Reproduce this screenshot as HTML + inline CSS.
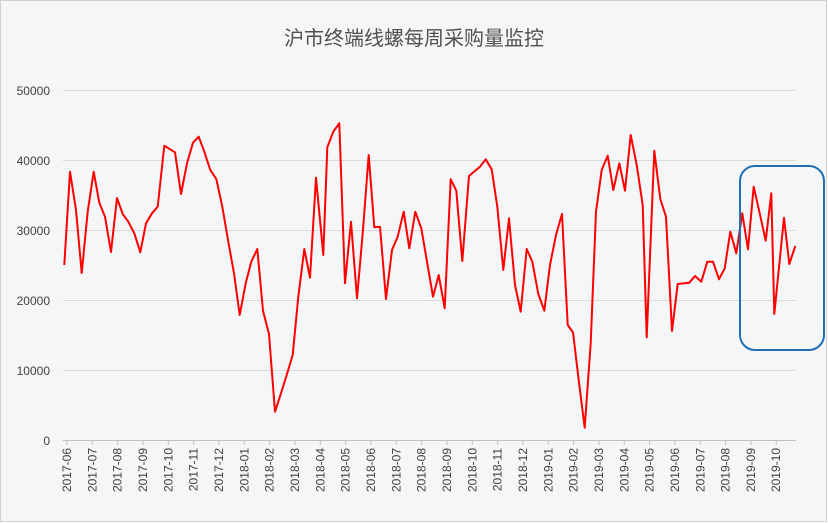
<!DOCTYPE html>
<html><head><meta charset="utf-8"><style>
html,body{margin:0;padding:0;background:#fff}
svg{display:block}
text{font-family:"Liberation Sans","Noto Sans CJK SC",sans-serif}
</style></head><body>
<svg width="828" height="523" viewBox="0 0 828 523" xmlns="http://www.w3.org/2000/svg">
<rect x="0.5" y="0.5" width="826" height="521" fill="#f5f6f8" stroke="#d0d0d0"/>
<text x="414" y="45" text-anchor="middle" font-size="20" fill="#505050">沪市终端线螺每周采购量监控</text>
<g stroke="#d9d9d9" stroke-width="1">
<line x1="63" x2="796" y1="90.5" y2="90.5"/>
<line x1="63" x2="796" y1="160.5" y2="160.5"/>
<line x1="63" x2="796" y1="230.5" y2="230.5"/>
<line x1="63" x2="796" y1="300.5" y2="300.5"/>
<line x1="63" x2="796" y1="370.5" y2="370.5"/>
<line x1="63" x2="796" y1="440.5" y2="440.5" stroke="#bfbfbf"/>
</g>
<g font-size="12" fill="#404040" text-anchor="end">
<text x="50" y="95">50000</text><text x="50" y="165">40000</text><text x="50" y="235">30000</text>
<text x="50" y="305">20000</text><text x="50" y="375">10000</text><text x="50" y="445">0</text>
</g>
<g id="xt" font-size="12" fill="#404040"></g>
<polyline fill="none" stroke="#ff0000" stroke-width="2" stroke-linejoin="round" points="
64.3,265 70,171.7 76,210 81.7,273 87.7,211.7 93.7,171.7 99.3,202.7 105,216.7 111,252 117,198 122.7,214 128.3,221.7 134.3,233.3 140.3,252.3 146,223.3 152,213.3 157.7,206.7 164.3,145.7 175,152.3 181,194 187,163.3 193,142.7 198.7,136.7 204.3,151.7 210.3,170 216.3,179 222.3,206.7 228,240 234,273.3 239.7,315 245.7,283.3 251.3,261.7 257.3,249 263,310.7 269,334.3 275,411.7 281,393.3 286.7,375 292.7,355 298.3,296.7 304.3,249 310,277.7 316,177.7 323.3,255 327.3,147.3 333.3,131.7 339.3,123.3 345,283.3 351,221.7 357,298.3 362.7,233.3 368.7,155 374.3,227.3 380,226.7 386,299 392,250 397.7,236.7 403.7,211.7 409.3,248.3 415.3,211.7 421.3,228.3 427,261.7 433,296.7 438.7,275 444.7,308.3 450.7,179.3 456.3,190.7 462.3,261 469,176 474,171.7 480,166.7 485.7,159.3 491.7,169.3 497.3,206.7 503.3,270 509,218.3 515,285 520.7,311.7 526.7,249 532.3,261.7 538.3,294 544.3,310.7 550,265 556,235 562,214 567.7,325 573,332.5 578.7,380 584.7,427.7 590.7,343.3 596,211.7 601.7,170 607.7,155.7 613.3,190 619.3,163.3 625,190.7 630.7,135 636.7,165 642.7,205 646.7,337.3 654.3,150.7 660.3,199 666,216.7 672,331 677.7,284 689.3,282.7 695,276 701.3,281.7 707.3,261.7 713,261.7 719,279.3 724.7,268.3 730.3,231.7 736.3,253.3 742.3,213.3 748,249.3 753.7,186.7 759.7,213.3 765.7,240.7 771.3,193.3 774.3,314 784,217.7 789.3,264 795.3,246"/>
<rect x="740" y="166" width="84" height="184" rx="15" ry="15" fill="none" stroke="#1f6fb5" stroke-width="2"/>
</svg>
<script>
var g=document.getElementById('xt'),s='';
var labs=[];for(var y=2017;y<=2019;y++)for(var m=1;m<=12;m++){if(y==2017&&m<6)continue;if(y==2019&&m>10)continue;labs.push(y+'-'+(m<10?'0':'')+m);}
labs.forEach(function(l,i){var x=67+25.33*i;s+='<line x1="'+x+'" x2="'+x+'" y1="440" y2="445" stroke="#bfbfbf"/>';s+='<text transform="translate('+(x+4)+',448) rotate(-90)" text-anchor="end">'+l+'</text>';});
g.innerHTML=s;
</script>
</body></html>
